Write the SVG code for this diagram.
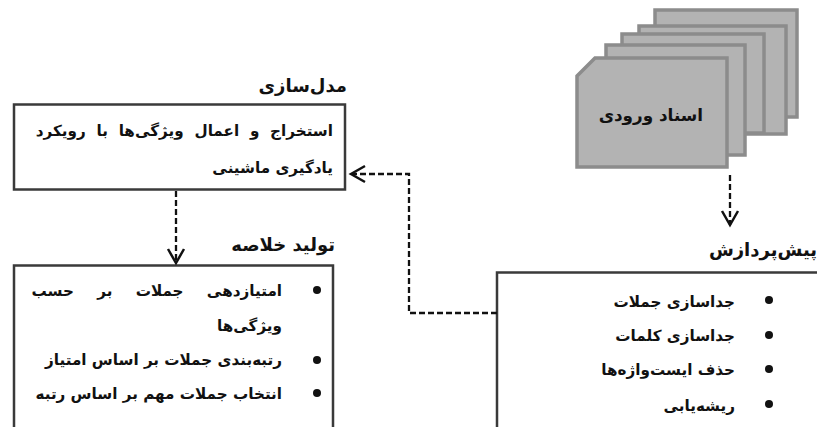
<svg xmlns="http://www.w3.org/2000/svg" width="817" height="427" viewBox="0 0 817 427">
<style>
text{font-family:"DejaVu Sans",sans-serif;font-weight:bold;fill:#111;direction:rtl;text-anchor:start}
.t{font-size:15.200px}
.h{font-size:18px}
.card{fill:#b3b3b3;stroke:#8c8c8c;stroke-width:3.500}
.box{fill:#fff;stroke:#3a3a3a;stroke-width:2.500}
.c{fill:none;stroke:#111;stroke-width:2.300;stroke-dasharray:6 3}
.a{fill:none;stroke:#111;stroke-width:2.500}
</style>
<rect width="817" height="427" fill="#fff"/>
<g id="input-documents">
<rect class="card" x="655" y="10" width="142" height="107"/>
<rect class="card" x="639" y="26" width="147" height="108"/>
<rect class="card" x="622" y="34" width="142" height="99"/>
<rect class="card" x="606" y="45" width="139" height="110"/>
<path class="card" d="M595 58H727V167H577V76Z"/>
<text x="703" y="121" style="font-size:16.800px">اسناد ورودی</text>
</g>
<g id="modeling">
<text class="h" x="347" y="92">مدل‌سازی</text>
<rect class="box" x="14" y="104.500" width="331" height="85"/>
<text class="t" x="333" y="136" style="word-spacing:5.500px">استخراج و اعمال ویژگی‌ها با رویکرد</text>
<text class="t" x="333" y="173">یادگیری ماشینی</text>
</g>
<g id="summary">
<text class="h" x="335" y="251">تولید خلاصه</text>
<path class="box" d="M14 429V265.500H333V429"/>
<circle cx="317" cy="290" r="4" fill="#111"/>
<circle cx="317" cy="360" r="4" fill="#111"/>
<circle cx="317" cy="393" r="4" fill="#111"/>
<text class="t" x="282" y="296" style="word-spacing:18px">امتیازدهی جملات بر حسب</text>
<text class="t" x="282" y="331">ویژگی‌ها</text>
<text class="t" x="282" y="365">رتبه‌بندی جملات بر اساس امتیاز</text>
<text class="t" x="282" y="399">انتخاب جملات مهم بر اساس رتبه</text>
</g>
<g id="preprocessing">
<text class="h" x="817" y="256">پیش‌پردازش</text>
<path class="box" d="M497 429V272.500H819"/>
<circle cx="769" cy="300" r="4" fill="#111"/>
<circle cx="769" cy="335" r="4" fill="#111"/>
<circle cx="769" cy="369" r="4" fill="#111"/>
<circle cx="769" cy="404" r="4" fill="#111"/>
<text class="t" x="735" y="307">جداسازی جملات</text>
<text class="t" x="735" y="341">جداسازی کلمات</text>
<text class="t" x="735" y="375">حذف ایست‌واژه‌ها</text>
<text class="t" x="735" y="411">ریشه‌یابی</text>
</g>
<g id="connectors">
<path class="c" d="M730 175V225"/>
<path class="a" d="M722 211L730 225L738 211"/>
<path class="c" d="M176 191V263"/>
<path class="a" d="M168 249L176 263L184 249"/>
<path class="c" d="M497 313H409V174H352"/>
<path class="a" d="M365 166L351 174L365 182"/>
</g>
</svg>
